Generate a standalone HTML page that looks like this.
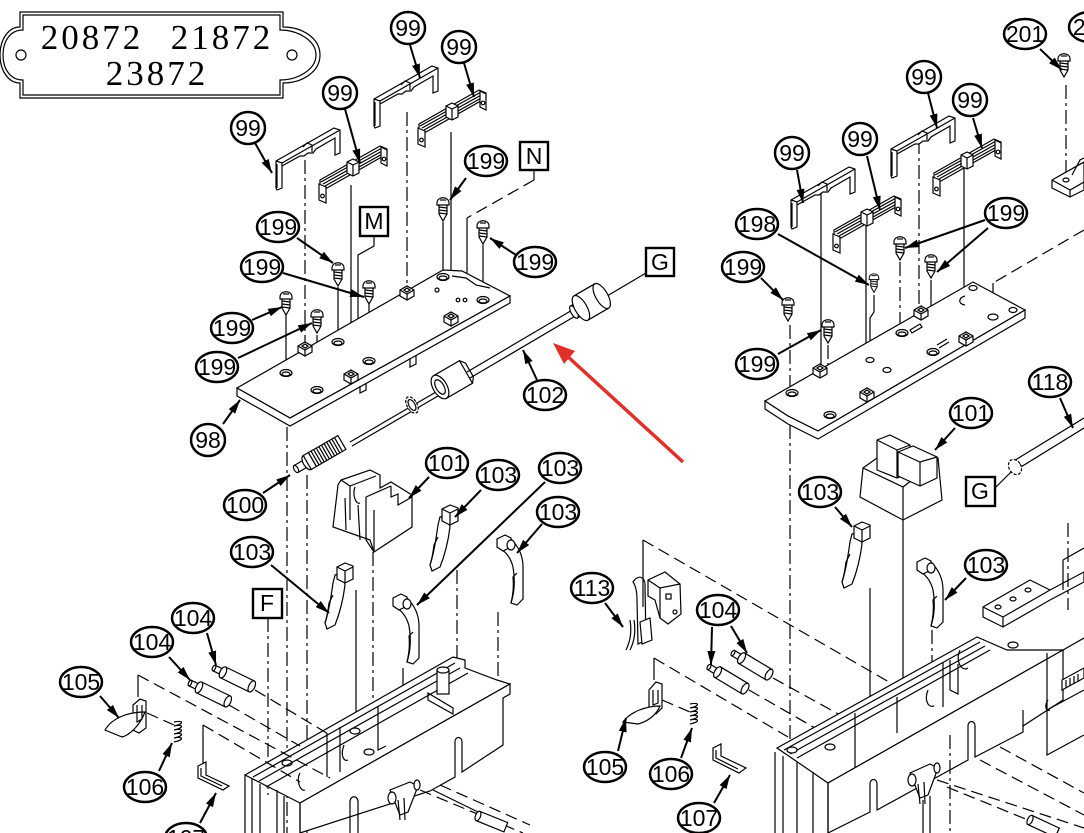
<!DOCTYPE html>
<html><head><meta charset="utf-8"><style>
html,body{margin:0;padding:0;background:#fff}
svg{display:block}
.l{stroke:#000;stroke-width:1.2;fill:none}
.p{stroke:#000;stroke-width:1.2;fill:#fff}
.dd{stroke:#000;stroke-width:1.2;fill:none;stroke-dasharray:14 4 3 4}
.ds{stroke:#000;stroke-width:1.2;fill:none;stroke-dasharray:12 6}
.ld{stroke:#000;stroke-width:2;fill:none;marker-end:url(#ah)}
.e{stroke:#000;stroke-width:2.5;fill:#fff}
.t{font-family:"Liberation Sans",sans-serif;font-size:23px;text-anchor:middle;fill:#000}
.bx{stroke:#000;stroke-width:2.4;fill:#fff}
</style></head><body>
<svg width="1084" height="833" viewBox="0 0 1084 833" xmlns="http://www.w3.org/2000/svg">
<defs>
<marker id="ah" markerUnits="userSpaceOnUse" markerWidth="16" markerHeight="10" refX="14" refY="4" orient="auto"><path d="M0,0 L14,4 L0,8 Z" fill="#000"/></marker>
<g id="bA">
<path class="p" d="M0,-3 L58,-36 L64,-34 L64,-11 L59,-9 L59,-26 L40,-15 L37,-11 L32,-11 L28,-8 L24,-8 L6,2 L6,24 L1,26 L0,24 Z"/>
<path class="l" d="M0,-3 L6,-1 L64,-34 M6,-1 L6,2 M27,-17 L31,-21 L36,-19 L36,-12 M1,0 L1,24"/>
</g>
<g id="bB">
<path class="p" d="M0,4 L60,-30 L67,-27 L67,-22 L7,12 L0,9 Z"/>
<path class="l" d="M1,6 L62,-28 M3,8 L64,-26 M5,10 L66,-24"/>
<path class="p" d="M-1,8 L6,11 L6,27 L-1,24 Z"/><circle cx="2.5" cy="20" r="1.8" class="l"/>
<path class="p" d="M61,-29 L67,-26 L67,-10 L61,-13 Z"/><circle cx="64" cy="-17" r="1.8" class="l"/>
<path class="p" d="M27,-14 L33,-17 L39,-14 L39,-3 L33,0 L27,-3 Z"/><path class="l" d="M27,-14 L33,-11 L39,-14 M33,-11 L33,0"/>
</g>
<g id="sc">
<path class="p" d="M-4,6 L4,6 L4,16 L0,23 L-4,16 Z"/>
<path class="l" d="M-4,9 L4,10 M-4,12 L4,13 M-4,15 L4,16"/>
<path class="p" d="M-6,5 C-6,-2 6,-2 6,5 L6,7 L-6,7 Z"/>
<path class="l" d="M-3,2 L3,2"/>
</g>
<g id="ho"><ellipse cx="0" cy="0" rx="6" ry="3.5" class="p"/><ellipse cx="0" cy="1" rx="4" ry="2" class="l"/></g>
<g id="bk"><path class="p" d="M-7,0 L0,-4 L7,0 L7,6 L0,10 L-7,6 Z"/><path class="l" d="M-7,0 L0,4 L7,0 M0,4 L0,10 M-3,0 L0,-2 L3,0 L0,2 Z"/></g>
<g id="lvA">
<path class="p" d="M12,12 L20,10 L22,22 C20,38 16,52 12,62 L4,66 L2,60 C6,48 8,34 10,20 Z"/>
<path class="l" d="M10,32 L6,40 C5,48 4,54 2,60"/>
<path class="p" d="M14,4 L22,0 L30,3 L30,16 L22,20 L14,16 Z"/><path class="l" d="M14,4 L22,8 L30,4 M22,8 L22,20"/>
</g>
<g id="lvB">
<path class="p" d="M4,10 L14,6 C22,14 26,24 26,34 L26,66 L20,72 L14,70 C18,58 18,46 16,34 C14,26 10,20 4,16 Z"/>
<path class="l" d="M20,40 L16,44 C17,54 16,62 14,70"/>
<path class="p" d="M0,6 L8,2 L14,5 L14,14 L6,18 L0,14 Z"/><ellipse cx="14" cy="12" rx="4" ry="5" class="p"/>
</g>
<g id="pin">
<path class="p" d="M0,-3 L10,-3 L10,3 L0,3 Z"/><ellipse cx="0" cy="0" rx="1.5" ry="3" class="p"/>
<path class="p" d="M10,-6 L42,-6 L42,6 L10,6 Z"/><ellipse cx="10" cy="0" rx="3" ry="6" class="p"/><ellipse cx="42" cy="0" rx="3" ry="6" class="p"/>
</g>
</defs>

<!-- Nameplate -->
<path class="l" stroke-width="1.6" d="M20,12 L283,12 L283,27 C302,27 320,38 320,55 C320,72 302,83 283,83 L283,98 L20,98 L20,83 C8,83 0,70 0,55 C0,40 8,27 20,27 Z"/>
<path class="l" stroke-width="1.2" d="M23,15 L280,15 L280,30 C297,30 316,40 316,55 C316,70 297,80 280,80 L280,95 L23,95 L23,80 C11,80 3,70 3,55 C3,40 11,30 23,30 Z"/>
<circle cx="21" cy="55" r="5" class="l"/><circle cx="292" cy="55" r="5" class="l"/>
<text x="92" y="49" font-family="Liberation Serif,serif" font-size="35" text-anchor="middle" letter-spacing="3">20872</text>
<text x="222" y="49" font-family="Liberation Serif,serif" font-size="35" text-anchor="middle" letter-spacing="3">21872</text>
<text x="157" y="85" font-family="Liberation Serif,serif" font-size="35" text-anchor="middle" letter-spacing="3">23872</text>

<!-- ================= LEFT ASSEMBLY ================= -->
<path class="dd" d="M305,160 L305,343"/>
<path class="l" d="M351,185 L351,370"/>
<path class="dd" d="M407,112 L407,287"/>
<path class="l" d="M451,132 L451,312"/>
<path class="l" d="M443,222 L443,275 M483,245 L483,298 M338,287 L338,340 M369,304 L369,358 M286,315 L286,371 M317,335 L317,388"/>
<path class="l" d="M374,236 L374,246 L358,255 L358,350"/>
<path class="l" d="M534,170 L534,180"/><path class="ds" d="M534,180 L467,218"/><path class="l" d="M467,218 L467,300"/>

<!-- plate 98 -->
<path class="p" d="M237,388 L443,270 L462,271 L510,296 L290,418 Z"/>
<path class="p" d="M237,388 L237,396 L290,426 L510,303 L510,296 L290,418 Z"/>
<path class="l" d="M452,276 L466,278 L476,285 L490,288 M410,358 L410,367 L416,364 L416,355 M360,386 L360,393 L366,390 L366,383"/>
<use href="#ho" x="286" y="373"/><use href="#ho" x="317" y="390"/><use href="#ho" x="338" y="342"/><use href="#ho" x="369" y="361"/><use href="#ho" x="443" y="277"/><use href="#ho" x="483" y="300"/>
<circle cx="437" cy="290" r="2" class="l"/><circle cx="458" cy="300" r="1.8" class="l"/><circle cx="465" cy="300" r="1.8" class="l"/>
<use href="#bk" x="305" y="346"/><use href="#bk" x="351" y="374"/><use href="#bk" x="407" y="290"/><use href="#bk" x="451" y="316"/>

<use href="#bA" transform="translate(276,164)"/>
<use href="#bB" transform="translate(320,176)"/>
<use href="#bA" transform="translate(374,102)"/>
<use href="#bB" transform="translate(419,120)"/>
<use href="#sc" x="443" y="198"/><use href="#sc" x="483" y="221"/><use href="#sc" x="338" y="263"/><use href="#sc" x="369" y="281"/><use href="#sc" x="286" y="292"/><use href="#sc" x="317" y="310"/>

<!-- shaft 100/102 -->
<path class="l" d="M350,442 L436,392 M352,446 L438,396"/>
<path class="l" d="M467,372 L574,309 M470,378 L577,315"/>
<path class="l" d="M607,296 L646,273"/>
<g transform="translate(296,469) rotate(-30)">
<rect x="0" y="-4" width="12" height="8" class="p"/><ellipse cx="0" cy="0" rx="2" ry="4" class="p"/>
<ellipse cx="13" cy="0" rx="4" ry="8" class="p"/><rect x="13" y="-8" width="6" height="16" class="p"/>
<rect x="19" y="-8" width="34" height="16" class="p"/>
<path class="l" d="M22,-8 L22,8 M25,-8 L25,8 M28,-8 L28,8 M31,-8 L31,8 M34,-8 L34,8 M37,-8 L37,8 M40,-8 L40,8 M43,-8 L43,8 M46,-8 L46,8 M49,-8 L49,8"/>
</g>
<g transform="translate(412,405) rotate(-30)"><ellipse cx="0" cy="0" rx="5" ry="9" class="p" stroke-dasharray="3 1.5" stroke-width="2.5"/><ellipse cx="0" cy="0" rx="3" ry="6" class="p"/></g>
<g transform="translate(440,387) rotate(-30)"><rect x="0" y="-13" width="30" height="26" class="p"/><ellipse cx="0" cy="0" rx="7" ry="13" class="p"/><ellipse cx="0" cy="0" rx="4" ry="8" class="l"/><path class="l" d="M30,-13 L34,-8 L34,8 L30,13"/></g>
<g transform="translate(574,312) rotate(-30)"><rect x="0" y="-7" width="8" height="14" class="p"/><ellipse cx="0" cy="0" rx="3" ry="7" class="p"/><rect x="8" y="-14" width="24" height="28" class="p"/><ellipse cx="8" cy="0" rx="6" ry="14" class="p"/><ellipse cx="32" cy="0" rx="6" ry="14" class="p"/></g>

<!-- 101 left block -->
<path class="p" d="M333,527 L338,485 L341,480 L370,470 L380,475 L380,488 L391,482 L412,495 L412,527 L374,552 L370,540 L333,527 Z"/>
<path class="l" d="M341,480 L350,486 L350,520 M350,486 L376,476 M355,487 C352,495 356,505 360,503 M366,497 L391,486 M366,497 L366,540 L374,552 M391,486 L391,497 L398,494 L398,505 L412,497 M345,498 L346,530 M358,505 L360,540 M374,510 L374,552"/>

<use href="#lvA" transform="translate(323,563)"/>
<use href="#lvA" transform="translate(428,505)"/>
<use href="#lvB" transform="translate(393,592)"/>
<use href="#lvB" transform="translate(497,533)"/>

<path class="dd" d="M287,427 L287,833"/>
<path class="dd" d="M307,475 L307,833"/>
<path class="dd" d="M268,618 L268,795"/>
<path class="l" d="M356,590 L356,727"/>
<path class="dd" d="M373,552 L373,755"/>
<path class="l" d="M403,668 L403,757"/>
<path class="dd" d="M457,570 L457,660"/>
<path class="dd" d="M498,612 L498,682"/>

<!-- left housing -->
<path class="p" d="M245,775 L453,657 L465,660 L465,668 L497,680 L510,684 L300,803 Z"/>
<path class="l" d="M253,777 L455,663 M259,781 L460,668 M266,787 L468,673"/>
<path class="p" d="M300,803 L510,684 L510,694 L503,698 L503,745 L462,772 L462,742 C462,736 455,736 455,742 L455,777 L430,791 L300,833 Z"/>
<path class="l" d="M300,803 L300,833 M245,775 L245,833 M252,779 L252,833 M260,784 L260,833 M277,790 L277,833 M284,796 L284,833 M350,833 L350,802 C350,795 358,795 358,802 L358,833"/>
<path class="l" d="M327,733 L327,777 M340,727 L340,772 M378,706 L378,750 L386,746 M428,693 L453,708 L453,714 L428,700 Z"/>
<rect x="437" y="670" width="12" height="24" class="p"/><ellipse cx="443" cy="670" rx="6" ry="3" class="p"/>
<ellipse cx="287" cy="763" rx="5" ry="3" class="l"/><ellipse cx="369" cy="752" rx="5" ry="3" class="l"/><ellipse cx="355" cy="731" rx="5" ry="3" class="l"/>
<path class="l" d="M300,773 C296,780 300,792 305,790 M344,745 C340,756 344,762 348,760"/>
<path class="p" d="M390,790 L410,782 L418,786 L408,812 L400,815 Z"/><ellipse cx="392" cy="798" rx="4" ry="6" class="p"/><ellipse cx="417" cy="785" rx="3" ry="5" class="p"/>
<path class="l" d="M398,800 L400,820 M404,798 L405,820"/>
<path class="ds" d="M420,790 L523,833 M440,785 L530,825"/>
<path class="l" d="M433,790 L478,812"/>
<g transform="translate(478,816) rotate(22)"><rect x="0" y="-5" width="30" height="10" class="p"/><ellipse cx="0" cy="0" rx="2.5" ry="5" class="p"/></g>

<!-- left small parts -->
<use href="#pin" transform="translate(214,668) rotate(26)"/>
<use href="#pin" transform="translate(190,683) rotate(26)"/>
<path class="ds" d="M255,690 L330,735 M229,705 L300,746"/>
<path class="l" d="M138,675 L138,697 M203,725 L203,767"/>
<path class="ds" d="M138,675 L330,778 M203,725 L300,782"/>
<path class="p" d="M133,705 L140,699 L146,701 L146,728 L139,733 L133,730 Z"/>
<path class="p" d="M105,730 C112,718 128,712 145,712 C140,725 130,735 122,737 Z"/>
<path class="l" d="M137,705 L137,722 L142,719 L142,705"/>
<path class="ds" d="M147,713 L174,725"/>
<path class="l" stroke-width="1.4" d="M174,722 C184,720 184,724 174,726 C184,724 184,728 174,730 C184,728 184,732 174,734 C184,732 184,736 174,738 C184,736 184,740 174,742"/>
<path class="p" d="M198,766 L206,762 L206,775 L229,786 L223,790 L198,778 Z"/><path class="l" d="M201,768 L201,776 L222,786"/>

<!-- ================= RIGHT ASSEMBLY ================= -->
<path class="l" d="M821,193 L821,365"/>
<path class="dd" d="M828,345 L828,414"/>
<path class="l" d="M866,220 L866,390"/>
<path class="l" d="M874,295 L874,312 L870,318 L870,358"/>
<path class="dd" d="M900,262 L900,332"/>
<path class="dd" d="M919,140 L919,308"/>
<path class="l" d="M931,280 L931,350"/>
<path class="l" d="M964,165 L964,333"/>
<path class="dd" d="M790,325 L790,748"/>
<path class="ds" d="M1084,230 L993,283"/><path class="l" d="M993,283 L993,316"/>
<path class="dd" d="M1066,85 L1066,178"/>

<!-- right plate -->
<path class="p" d="M765,401 L973,282 L1025,310 L818,431 L788,416 Z"/>
<path class="p" d="M765,401 L765,409 L788,424 L818,439 L1025,318 L1025,310 L818,431 L788,416 Z"/>
<use href="#ho" x="792" y="393"/><use href="#ho" x="830" y="415"/><use href="#ho" x="902" y="333"/><use href="#ho" x="933" y="352"/>
<ellipse cx="870" cy="360" rx="4" ry="2.5" class="l"/><ellipse cx="887" cy="370" rx="4" ry="2.5" class="l"/><ellipse cx="973" cy="288" rx="4" ry="2.5" class="l"/><ellipse cx="993" cy="317" rx="5" ry="3" class="l"/><ellipse cx="1013" cy="310" rx="4" ry="2.5" class="l"/>
<path class="l" d="M965,296 C958,298 958,304 965,305 M910,330 L920,324 L922,327 L912,333 Z M937,345 L947,339 M939,348 L949,342"/>
<use href="#bk" x="820" y="368"/><use href="#bk" x="867" y="392"/><use href="#bk" x="921" y="310"/><use href="#bk" x="966" y="336"/>

<use href="#bA" transform="translate(791,203)"/>
<use href="#bB" transform="translate(834,226)"/>
<use href="#bA" transform="translate(891,152)"/>
<use href="#bB" transform="translate(934,169)"/>
<use href="#sc" x="788" y="298"/><use href="#sc" x="828" y="320"/><use href="#sc" x="900" y="237"/><use href="#sc" x="931" y="255"/><use href="#sc" x="1064" y="54"/>
<g transform="translate(874,274) scale(0.8)"><use href="#sc"/></g>

<!-- top-right part -->
<path class="p" d="M1052,180 L1084,162 L1084,190 L1070,197 L1052,188 Z"/>
<path class="l" d="M1052,180 L1070,190 L1084,182 M1070,190 L1070,197 M1072,175 L1080,160 L1084,158"/>
<ellipse cx="1066" cy="180" rx="3" ry="2" class="l"/>

<!-- 118 shaft -->
<path class="l" d="M1012,462 L1084,418 M1016,470 L1084,428"/>
<ellipse cx="1015" cy="467" rx="6" ry="8" transform="rotate(-30 1015 467)" class="p" stroke-dasharray="3 1.5" stroke-width="2.5"/>
<path class="l" d="M995,488 L1011,472"/>

<!-- 101 right block -->
<path class="p" d="M863,468 L877,458 L938,458 L942,500 L903,520 L860,497 Z"/>
<path class="l" d="M863,468 L903,487 L938,460 M903,487 L903,520"/>
<path class="p" d="M877,440 L890,435 L910,445 L910,473 L897,478 L877,470 Z"/>
<path class="l" d="M877,440 L897,450 L910,445 M897,450 L897,478"/>
<path class="p" d="M898,452 L913,446 L937,457 L937,478 L920,486 L898,476 Z"/>
<path class="l" d="M898,452 L920,462 L937,457 M920,462 L920,486"/>
<path class="l" d="M903,520 L903,700"/>

<use href="#lvA" transform="translate(840,522)"/>
<use href="#lvB" transform="translate(917,556)"/>
<path class="l" d="M870,588 L870,712"/>
<path class="dd" d="M932,630 L932,700"/>

<!-- 113 part -->
<path class="p" d="M648,580 L665,572 L680,584 L681,614 L668,624 L660,618 L655,600 L648,596 Z"/>
<path class="l" d="M648,580 L660,588 L680,584 M660,588 L660,618"/>
<rect x="666" y="594" width="5" height="5" class="l"/><circle cx="675" cy="612" r="2" class="l"/>
<path class="p" d="M633,582 C638,574 646,576 645,588 L646,640 L638,644 L637,600 C637,592 636,586 633,582 Z"/>
<path class="p" d="M640,622 L650,618 L652,640 L642,644 Z"/>
<path class="l" d="M630,620 C632,632 630,642 626,650 M634,620 C636,632 634,642 630,650"/>
<path class="l" d="M643,540 L643,607 M654,658 L654,680"/>
<path class="ds" d="M643,540 L915,697 M654,658 L788,737"/>

<!-- right small parts -->
<use href="#pin" transform="translate(733,653) rotate(31)"/>
<use href="#pin" transform="translate(709,667) rotate(31)"/>
<path class="ds" d="M773,678 L842,716 M749,690 L815,728"/>
<path class="p" d="M649,690 L656,682 L662,684 L662,708 L656,714 L649,712 Z"/>
<path class="p" d="M623,722 C630,712 646,706 660,706 C656,716 646,722 638,724 Z"/>
<path class="l" d="M653,690 L653,705 L658,703 L658,690"/>
<path class="ds" d="M662,700 L690,712"/>
<path class="l" stroke-width="1.4" d="M690,704 C700,702 700,706 690,708 C700,706 700,710 690,712 C700,710 700,714 690,716 C700,714 700,718 690,720 C700,718 700,722 690,724"/>
<path class="p" d="M713,748 L721,744 L721,756 L746,768 L739,773 L713,760 Z"/><path class="l" d="M716,750 L716,758 L738,769"/>

<!-- right housing -->
<path class="p" d="M777,748 L977,637 L1007,650 L1063,650 L828,783 Z"/>
<path class="l" d="M784,750 L980,642 M790,754 L985,646 M797,758 L990,650"/>
<path class="p" d="M828,783 L1063,650 L1063,700 L1023,726 L1023,732 L975,757 L975,726 C975,720 968,720 968,726 L968,760 L877,810 L877,784 C877,778 870,778 870,784 L870,812 L828,833 Z"/>
<path class="l" d="M828,783 L828,833 M775,752 L775,833 M783,756 L783,833 M797,762 L797,833 M813,772 L813,833"/>
<path class="l" d="M855,713 L855,767 M897,697 L897,733 M943,663 L943,707 M960,650 C955,662 962,672 968,668"/>
<ellipse cx="792" cy="750" rx="5" ry="3" class="p"/><ellipse cx="830" cy="747" rx="5" ry="3" class="l"/><ellipse cx="1013" cy="645" rx="5" ry="3" class="l"/>
<path class="l" d="M950,660 L950,690 L958,694 L958,664 M928,690 C924,700 928,708 934,706"/>
<path class="p" d="M910,773 L930,764 L938,768 L928,795 L920,798 Z"/><ellipse cx="912" cy="780" rx="4" ry="6" class="p"/><ellipse cx="937" cy="768" rx="3" ry="5" class="p"/>
<path class="l" d="M918,784 L920,804 M924,782 L925,804 M923,800 L923,833 M930,796 L930,833"/>
<path class="dd" d="M950,735 L950,833"/>
<path class="ds" d="M937,780 L1084,828 M947,787 L1060,833"/>
<g transform="translate(1030,820) rotate(25)"><rect x="0" y="-5" width="30" height="10" class="p"/><ellipse cx="0" cy="0" rx="2.5" ry="5" class="p"/></g>

<!-- right far structure -->
<path class="p" d="M983,607 L1030,580 L1050,590 L1084,572 L1084,582 L1050,600 L1003,627 L983,617 Z"/>
<path class="l" d="M983,607 L1003,617 L1050,590 M1003,617 L1003,627"/>
<ellipse cx="998" cy="607" rx="3" ry="2" class="l"/><ellipse cx="1013" cy="599" rx="3" ry="2" class="l"/><ellipse cx="1028" cy="590" rx="3" ry="2" class="l"/>
<path class="dd" d="M1068,523 L1068,610"/>
<path class="l" d="M1063,560 L1084,548 M1063,560 L1063,590 M1063,650 L1084,638 M1047,653 L1047,755 L1084,735 M1084,690 L1047,710 M1023,710 L1023,727"/>
<path class="p" d="M1062,680 L1084,668 L1084,678 L1062,690 Z"/>
<path class="l" d="M1066,680 L1066,688 M1070,678 L1070,686 M1074,676 L1074,684 M1078,674 L1078,682"/>
<path class="l" d="M1048,700 C1044,706 1046,712 1050,710"/>
<path class="ds" d="M1000,747 L1084,793 M980,760 L1084,815"/>

<!-- RED ARROW -->
<line x1="683" y1="462" x2="566" y2="355" stroke="#e0302a" stroke-width="3.5"/>
<polygon points="553,343 575,351 564,364" fill="#e0302a"/>

<!-- LEADERS -->
<g class="ld">
<path d="M410,45 L420,78"/>
<path d="M464,63 L474,97"/>
<path d="M345,109 L360,163"/>
<path d="M255,143 L272,173"/>
<path d="M466,178 L450,200"/>
<path d="M516,255 L490,238"/>
<path d="M297,238 L333,263"/>
<path d="M283,273 L364,297"/>
<path d="M252,320 L282,307"/>
<path d="M238,358 L312,323"/>
<path d="M537,380 L523,350"/>
<path d="M223,424 L240,400"/>
<path d="M263,493 L290,475"/>
<path d="M429,477 L409,498"/>
<path d="M481,490 L455,517"/>
<path d="M545,482 L417,605"/>
<path d="M542,524 L517,553"/>
<path d="M271,565 L329,613"/>
<path d="M207,633 L216,665"/>
<path d="M169,657 L190,680"/>
<path d="M100,696 L119,718"/>
<path d="M159,771 L172,743"/>
<path d="M200,823 L216,793"/>
<path d="M1040,49 L1062,70"/>
<path d="M928,93 L937,128"/>
<path d="M973,118 L982,148"/>
<path d="M867,156 L880,210"/>
<path d="M797,170 L803,203"/>
<path d="M778,234 L869,285"/>
<path d="M761,278 L783,300"/>
<path d="M985,220 L905,248"/>
<path d="M988,228 L937,272"/>
<path d="M778,354 L821,330"/>
<path d="M1060,398 L1073,428"/>
<path d="M955,428 L935,450"/>
<path d="M835,507 L852,527"/>
<path d="M966,578 L945,600"/>
<path d="M605,603 L623,627"/>
<path d="M712,627 L711,665"/>
<path d="M731,626 L747,653"/>
<path d="M618,751 L626,718"/>
<path d="M681,758 L692,728"/>
<path d="M714,803 L730,775"/>
</g>

<!-- LABELS -->
<ellipse class="e" cx="408" cy="28" rx="17" ry="16"/><text class="t" x="408" y="36">99</text>
<ellipse class="e" cx="459" cy="47" rx="17" ry="16"/><text class="t" x="459" y="55">99</text>
<ellipse class="e" cx="340" cy="93" rx="17" ry="16"/><text class="t" x="340" y="101">99</text>
<ellipse class="e" cx="248" cy="128" rx="17" ry="16"/><text class="t" x="248" y="136">99</text>
<ellipse class="e" cx="486" cy="161" rx="21" ry="15"/><text class="t" x="486" y="169">199</text>
<ellipse class="e" cx="535" cy="262" rx="21" ry="15"/><text class="t" x="535" y="270">199</text>
<ellipse class="e" cx="278" cy="227" rx="21" ry="15"/><text class="t" x="278" y="235">199</text>
<ellipse class="e" cx="262" cy="267" rx="21" ry="15"/><text class="t" x="262" y="275">199</text>
<ellipse class="e" cx="232" cy="328" rx="21" ry="15"/><text class="t" x="232" y="336">199</text>
<ellipse class="e" cx="217" cy="367" rx="21" ry="15"/><text class="t" x="217" y="375">199</text>
<ellipse class="e" cx="545" cy="395" rx="21" ry="15"/><text class="t" x="545" y="403">102</text>
<ellipse class="e" cx="208" cy="440" rx="17" ry="16"/><text class="t" x="208" y="448">98</text>
<ellipse class="e" cx="245" cy="505" rx="21" ry="15"/><text class="t" x="245" y="513">100</text>
<ellipse class="e" cx="447" cy="463" rx="21" ry="15"/><text class="t" x="447" y="471">101</text>
<ellipse class="e" cx="498" cy="475" rx="21" ry="15"/><text class="t" x="498" y="483">103</text>
<ellipse class="e" cx="560" cy="468" rx="21" ry="15"/><text class="t" x="560" y="476">103</text>
<ellipse class="e" cx="558" cy="512" rx="21" ry="15"/><text class="t" x="558" y="520">103</text>
<ellipse class="e" cx="252" cy="552" rx="21" ry="15"/><text class="t" x="252" y="560">103</text>
<ellipse class="e" cx="193" cy="618" rx="21" ry="15"/><text class="t" x="193" y="626">104</text>
<ellipse class="e" cx="152" cy="642" rx="21" ry="15"/><text class="t" x="152" y="650">104</text>
<ellipse class="e" cx="81" cy="682" rx="21" ry="15"/><text class="t" x="81" y="690">105</text>
<ellipse class="e" cx="145" cy="787" rx="21" ry="15"/><text class="t" x="145" y="795">106</text>
<ellipse class="e" cx="186" cy="838" rx="21" ry="15"/><text class="t" x="186" y="846">107</text>

<ellipse class="e" cx="1025" cy="34" rx="21" ry="15"/><text class="t" x="1025" y="42">201</text>
<ellipse class="e" cx="1090" cy="27" rx="21" ry="15"/><text class="t" x="1092" y="35">202</text>
<ellipse class="e" cx="924" cy="77" rx="17" ry="16"/><text class="t" x="924" y="85">99</text>
<ellipse class="e" cx="970" cy="100" rx="17" ry="16"/><text class="t" x="970" y="108">99</text>
<ellipse class="e" cx="860" cy="139" rx="17" ry="16"/><text class="t" x="860" y="147">99</text>
<ellipse class="e" cx="792" cy="153" rx="17" ry="16"/><text class="t" x="792" y="161">99</text>
<ellipse class="e" cx="757" cy="224" rx="21" ry="15"/><text class="t" x="757" y="232">198</text>
<ellipse class="e" cx="743" cy="267" rx="21" ry="15"/><text class="t" x="743" y="275">199</text>
<ellipse class="e" cx="1006" cy="213" rx="21" ry="15"/><text class="t" x="1006" y="221">199</text>
<ellipse class="e" cx="757" cy="364" rx="21" ry="15"/><text class="t" x="757" y="372">199</text>
<ellipse class="e" cx="1050" cy="382" rx="21" ry="15"/><text class="t" x="1050" y="390">118</text>
<ellipse class="e" cx="971" cy="413" rx="21" ry="15"/><text class="t" x="971" y="421">101</text>
<ellipse class="e" cx="820" cy="492" rx="21" ry="15"/><text class="t" x="820" y="500">103</text>
<ellipse class="e" cx="986" cy="565" rx="21" ry="15"/><text class="t" x="986" y="573">103</text>
<ellipse class="e" cx="592" cy="588" rx="21" ry="15"/><text class="t" x="592" y="596">113</text>
<ellipse class="e" cx="718" cy="610" rx="21" ry="15"/><text class="t" x="718" y="618">104</text>
<ellipse class="e" cx="605" cy="767" rx="21" ry="15"/><text class="t" x="605" y="775">105</text>
<ellipse class="e" cx="671" cy="774" rx="21" ry="15"/><text class="t" x="671" y="782">106</text>
<ellipse class="e" cx="699" cy="818" rx="21" ry="15"/><text class="t" x="699" y="826">107</text>

<!-- boxed letters -->
<rect class="bx" x="520" y="142" width="28" height="28"/><text class="t" x="534" y="164">N</text>
<rect class="bx" x="360" y="207" width="28" height="29"/><text class="t" x="374" y="229">M</text>
<rect class="bx" x="646" y="248" width="28" height="28"/><text class="t" x="660" y="270">G</text>
<rect class="bx" x="253" y="589" width="29" height="29"/><text class="t" x="267" y="611">F</text>
<rect class="bx" x="966" y="477" width="29" height="29"/><text class="t" x="980" y="499">G</text>
</svg>
</body></html>
